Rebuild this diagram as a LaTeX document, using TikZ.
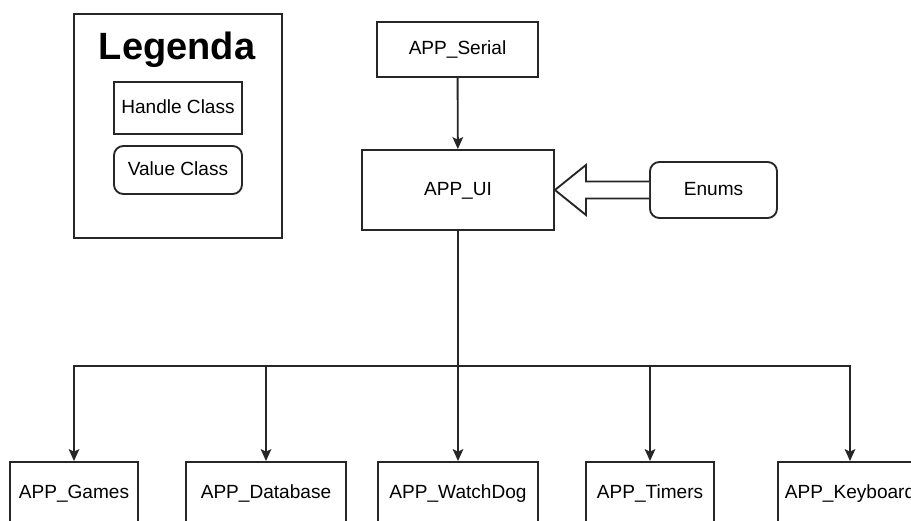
\documentclass[tikz,border=0pt]{standalone}
\usepackage{fontspec}
\setmainfont{Liberation Sans}
\usepackage{tikz}
\usetikzlibrary{arrows.meta, positioning, calc}
\tikzset{
  hcls/.style={rectangle, draw=black!85, line width=1.4pt, fill=white,
               align=center, font=\fontsize{14.3}{17}\selectfont, inner sep=0pt,
               text height=10.5pt, text depth=3pt},
  vcls/.style={hcls, rounded corners=7pt},
  lgd/.style={rectangle, draw=black!85, line width=1.4pt, inner sep=0pt},
  fl/.style={-{Stealth[length=9pt, width=8pt, inset=2pt]}, draw=black!85, line width=1.4pt},
  blk/.style={draw=black!85, line width=1.4pt, fill=white, line join=miter},
  ttl/.style={font=\fontsize{28.5}{32}\selectfont\bfseries, inner sep=0pt}
}
\begin{document}
\begin{tikzpicture}[x=0.75pt, y=-0.75pt]
\useasboundingbox (0,0) rectangle (911,521);
\clip (0,0) rectangle (911,521);

% legend
\node[lgd, minimum width=156pt, minimum height=168pt] (legend) at (178,126) {};
\node[ttl] (title) at (177,50) {Legenda};
\node[hcls, minimum width=96pt, minimum height=39pt] (hnd) at (178,108) {Handle Class};
\node[vcls, minimum width=96pt, minimum height=36pt] (val) at (178,170) {Value Class};

% top part
\node[hcls, minimum width=120.75pt, minimum height=41.25pt] (serial) at (457.5,49.5) {APP\_Serial};
\node[hcls, minimum width=144pt, minimum height=60pt] (ui) at (458,190) {APP\_UI};
\node[vcls, minimum width=95.25pt, minimum height=42pt] (enums) at (713.5,190) {Enums};

% modules
\node[hcls, minimum width=96pt, minimum height=46.5pt] (games) at (74,493) {APP\_Games};
\node[hcls, minimum width=120pt, minimum height=46.5pt] (db) at (266,493) {APP\_Database};
\node[hcls, minimum width=120pt, minimum height=46.5pt] (wdog) at (458,493) {APP\_WatchDog};
\node[hcls, minimum width=96pt, minimum height=46.5pt] (tmr) at (650,493) {APP\_Timers};
\node[hcls, minimum width=108pt, minimum height=46.5pt] (kbd) at (850,493) {APP\_Keyboard};

\coordinate (bus) at (458,366);

\draw[fl] (serial) -- (ui);
\draw[blk] ($(enums.west)+(0,6.4pt)$) -- ($(ui.east)+(23.25pt,6.4pt)$)
  -- ($(ui.east)+(23.25pt,18.75pt)$) -- (ui.east)
  -- ($(ui.east)+(23.25pt,-18.75pt)$) -- ($(ui.east)+(23.25pt,-6.4pt)$)
  -- ($(enums.west)+(0,-6.4pt)$);
\draw[fl] (ui.south) -- (wdog.north);
\foreach \m in {games, db, tmr, kbd}
  \draw[fl] (ui.south) -- (bus) -| (\m.north);
\end{tikzpicture}
\end{document}
